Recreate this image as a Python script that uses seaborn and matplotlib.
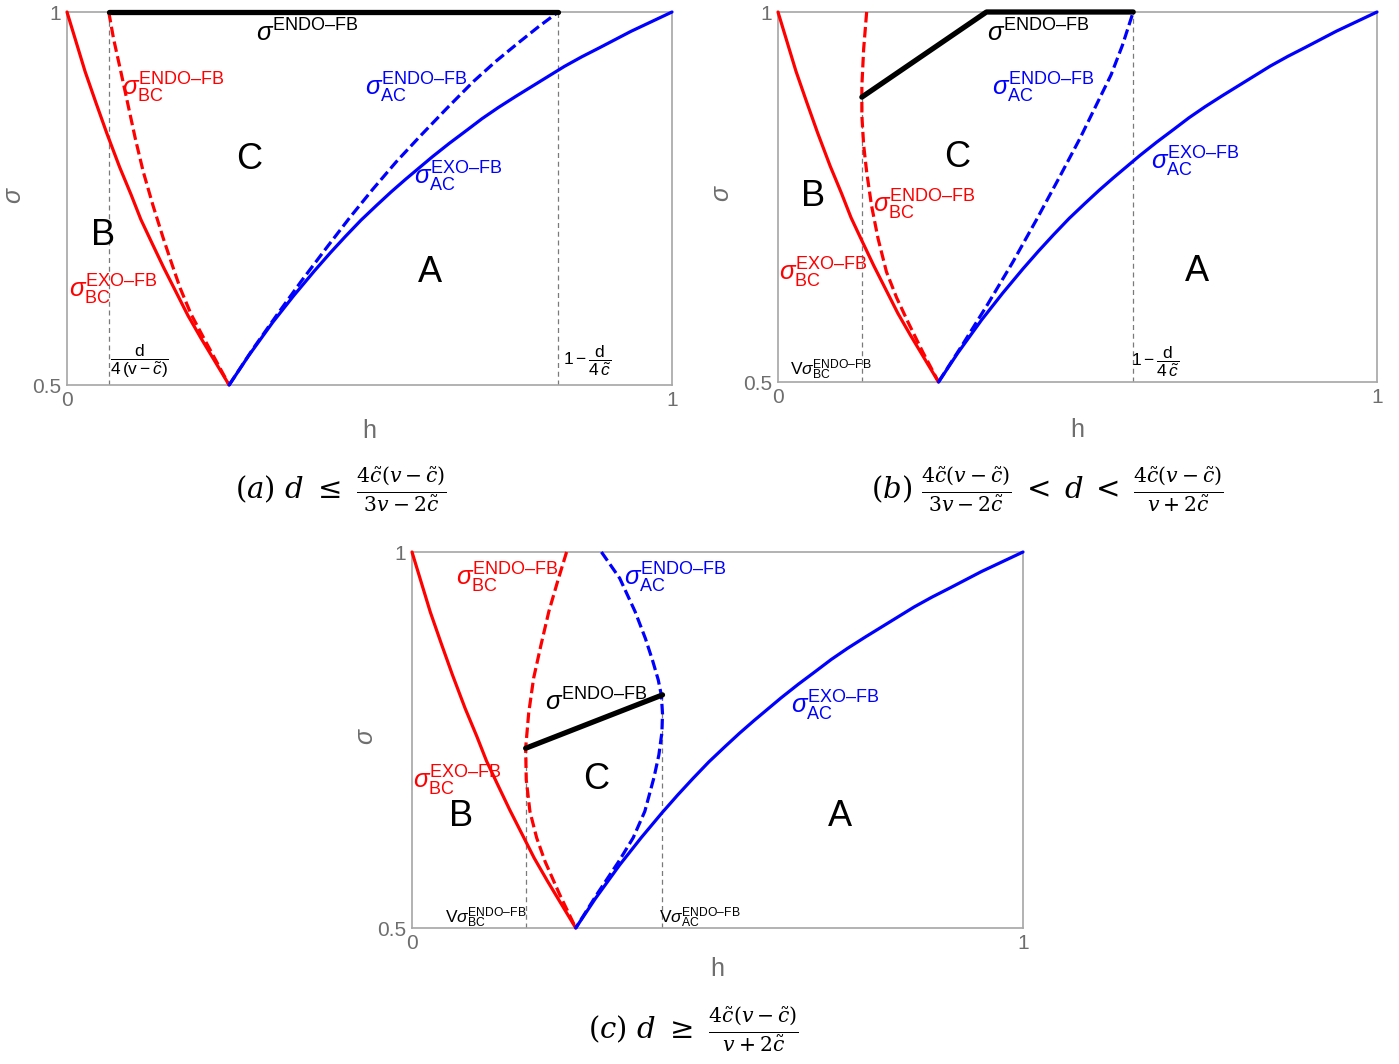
import matplotlib
matplotlib.use('Agg')
import matplotlib.pyplot as plt
import seaborn as sns

# ---- curves: h on x, sigma on y ----
# solid curves are the same in all three panels
h_bc_exo = [0.0, 0.015, 0.030, 0.048, 0.066, 0.087, 0.106, 0.122, 0.140, 0.160, 0.180, 0.200, 0.222, 0.245, 0.268]
s_bc_exo = [1.0, 0.960, 0.920, 0.878, 0.837, 0.792, 0.755, 0.722, 0.691, 0.657, 0.625, 0.593, 0.562, 0.531, 0.500]

h_ac_exo = [0.268, 0.300, 0.340, 0.375, 0.409, 0.435, 0.460, 0.486, 0.512, 0.536, 0.560, 0.582, 0.604,
            0.632, 0.660, 0.686, 0.713, 0.742, 0.770, 0.796, 0.822, 0.851, 0.880, 0.906, 0.932, 0.966, 1.0]
s_ac_exo = [0.500, 0.539, 0.584, 0.620, 0.653, 0.677, 0.699, 0.721, 0.741, 0.759, 0.776, 0.791, 0.806,
            0.824, 0.841, 0.857, 0.872, 0.887, 0.901, 0.914, 0.927, 0.940, 0.952, 0.963, 0.974, 0.987, 1.0]

# panel (a)
h_bc_endo_a = [0.069, 0.077, 0.089, 0.101, 0.113, 0.126, 0.142, 0.159, 0.173, 0.187, 0.205, 0.226, 0.248, 0.268]
s_bc_endo_a = [1.0, 0.964, 0.920, 0.875, 0.830, 0.786, 0.741, 0.697, 0.663, 0.630, 0.595, 0.563, 0.530, 0.500]
h_ac_endo_a = [0.268, 0.307, 0.347, 0.388, 0.429, 0.467, 0.505, 0.544, 0.583, 0.628, 0.672, 0.709, 0.745, 0.779, 0.812]
s_ac_endo_a = [0.500, 0.548, 0.594, 0.640, 0.684, 0.724, 0.762, 0.799, 0.833, 0.871, 0.907, 0.934, 0.958, 0.980, 1.0]
h_endo_a = [0.069, 0.812]
s_endo_a = [1.0, 1.0]
guide_h_a = [0.069, 0.811]
guide_top_a = [1.0, 1.0]

# panel (b)
h_bc_endo_b = [0.148, 0.143, 0.140, 0.140, 0.143, 0.148, 0.156, 0.167, 0.181, 0.198, 0.217, 0.242, 0.268]
s_bc_endo_b = [1.0, 0.950, 0.900, 0.860, 0.820, 0.784, 0.739, 0.694, 0.649, 0.614, 0.581, 0.540, 0.500]
h_ac_endo_b = [0.268, 0.310, 0.350, 0.392, 0.432, 0.470, 0.504, 0.530, 0.556, 0.575, 0.593]
s_ac_endo_b = [0.500, 0.553, 0.605, 0.662, 0.720, 0.777, 0.829, 0.872, 0.915, 0.955, 1.0]
h_endo_b = [0.140, 0.348, 0.593]
s_endo_b = [0.885, 1.0, 1.0]
guide_h_b = [0.140, 0.592]
guide_top_b = [0.885, 1.0]

# panel (c)
h_bc_endo_c = [0.253, 0.238, 0.224, 0.211, 0.199, 0.191, 0.186, 0.187, 0.193, 0.204, 0.218, 0.242, 0.268]
s_bc_endo_c = [1.0, 0.960, 0.921, 0.876, 0.832, 0.786, 0.739, 0.697, 0.655, 0.620, 0.588, 0.544, 0.500]
h_ac_endo_c = [0.310, 0.340, 0.365, 0.382, 0.394, 0.403, 0.408, 0.410, 0.409, 0.404, 0.396, 0.381, 0.362, 0.338, 0.302, 0.268]
s_ac_endo_c = [1.0, 0.965, 0.921, 0.885, 0.855, 0.830, 0.810, 0.785, 0.760, 0.730, 0.700, 0.655, 0.620, 0.588, 0.544, 0.500]
h_endo_c = [0.186, 0.410]
s_endo_c = [0.739, 0.810]
guide_h_c = [0.186, 0.409]
guide_top_c = [0.739, 0.810]

x_ticks = [0, 1]
x_ticklabels = ['0', '1']
y_ticks = [0.5, 1]
y_ticklabels = ['0.5', '1']

captions = [
    r'$(a)\ d\ \leq\ \frac{4\tilde{c}(v-\tilde{c})}{3v-2\tilde{c}}$',
    r'$(b)\ \frac{4\tilde{c}(v-\tilde{c})}{3v-2\tilde{c}}\;<\;d\;<\;\frac{4\tilde{c}(v-\tilde{c})}{v+2\tilde{c}}$',
    r'$(c)\ d\ \geq\ \frac{4\tilde{c}(v-\tilde{c})}{v+2\tilde{c}}$',
]

# ---- style ----
sns.set_theme(style='white')
plt.rcParams['font.family'] = ['Liberation Sans', 'DejaVu Sans']
plt.rcParams['mathtext.fontset'] = 'custom'
plt.rcParams['mathtext.rm'] = 'Liberation Sans'
plt.rcParams['mathtext.it'] = 'Liberation Sans:italic'
plt.rcParams['mathtext.bf'] = 'Liberation Sans:bold'
plt.rcParams['mathtext.sf'] = 'Liberation Sans'

RED = '#ff0000'
BLUE = '#0000ff'
GRAY = '#6e6e6e'
W, H = 1399, 1064

fig = plt.figure(figsize=(W / 100, H / 100), dpi=100)


def make_axes(left, top, right, bottom):
    return fig.add_axes([left / W, 1 - bottom / H, (right - left) / W, (bottom - top) / H])


def curve(ax, h, s, color, dashed=False, lw=2.3):
    ls = (0, (3.3, 1.4)) if dashed else '-'
    sns.lineplot(x=h, y=s, ax=ax, color=color, linewidth=lw, linestyle=ls,
                 sort=False, estimator=None, clip_on=False, zorder=3)


def sig(ax, x, y, sup, color, sub=None, size=18.5):
    txt = r'$\sigma' + (r'_{\mathrm{%s}}' % sub if sub else '') + r'^{\mathrm{%s}}$' % sup
    ax.text(x, y, txt, color=color, fontsize=size, ha='left', va='center', zorder=5)


def style_axes(ax, xlab_y, ylab_x):
    ax.set_xlim(0, 1)
    ax.set_ylim(0.5, 1)
    ax.set_xticks(x_ticks, x_ticklabels)
    ax.set_yticks(y_ticks, y_ticklabels)
    ax.tick_params(length=0, pad=4, labelsize=15, labelcolor=GRAY)
    for sp in ax.spines.values():
        sp.set_color('#a6a6a6')
        sp.set_linewidth(1.2)
    ax.set_xlabel('h', fontsize=18, color=GRAY)
    ax.set_ylabel(r'$\sigma$', fontsize=18, color=GRAY)
    ax.xaxis.set_label_coords(0.5, xlab_y)
    ax.yaxis.set_label_coords(ylab_x, 0.51)
    ax.grid(False)


def region(ax, x, y, letter):
    ax.text(x, y, letter, fontsize=26, ha='center', va='center', color='black')


def panel(ax, guide_h, guide_top, h_bc, s_bc, h_ac, s_ac, h_en, s_en):
    ax.vlines(guide_h, 0.5, guide_top, colors='#7a7a7a', linewidth=0.9,
              linestyles=(0, (4, 3)))
    curve(ax, h_bc, s_bc, RED, dashed=True)
    curve(ax, h_bc_exo, s_bc_exo, RED)
    curve(ax, h_ac, s_ac, BLUE, dashed=True)
    curve(ax, h_ac_exo, s_ac_exo, BLUE)
    curve(ax, h_en, s_en, 'black', lw=3.8)


def vsig(ax, x, y, sub):
    ax.text(x, y, r'$\mathrm{V}\sigma_{\mathrm{%s}}^{\mathrm{ENDO–FB}}$' % sub, fontsize=12.5,
            ha='left', va='center', color='black')


# ---- panel (a) ----
ax_a = make_axes(67, 12, 672, 385)
panel(ax_a, guide_h_a, guide_top_a, h_bc_endo_a, s_bc_endo_a, h_ac_endo_a, s_ac_endo_a, h_endo_a, s_endo_a)
style_axes(ax_a, -0.090, -0.068)
sig(ax_a, 0.313, 0.972, 'ENDO–FB', 'black')
sig(ax_a, 0.091, 0.898, 'ENDO–FB', RED, 'BC')
sig(ax_a, 0.492, 0.898, 'ENDO–FB', BLUE, 'AC')
sig(ax_a, 0.574, 0.779, 'EXO–FB', BLUE, 'AC')
sig(ax_a, 0.003, 0.628, 'EXO–FB', RED, 'BC')
region(ax_a, 0.060, 0.701, 'B')
region(ax_a, 0.301, 0.802, 'C')
region(ax_a, 0.600, 0.651, 'A')
ax_a.text(0.119, 0.532, r'$\dfrac{\mathrm{d}}{4\,(\mathrm{v}-\tilde{c})}$', fontsize=12.5,
          ha='center', va='center', color='black')
ax_a.text(0.860, 0.532, r'$1-\dfrac{\mathrm{d}}{4\,\tilde{c}}$', fontsize=12.5,
          ha='center', va='center', color='black')

# ---- panel (b) ----
ax_b = make_axes(778, 12, 1377, 382)
panel(ax_b, guide_h_b, guide_top_b, h_bc_endo_b, s_bc_endo_b, h_ac_endo_b, s_ac_endo_b, h_endo_b, s_endo_b)
style_axes(ax_b, -0.098, -0.074)
sig(ax_b, 0.349, 0.972, 'ENDO–FB', 'black')
sig(ax_b, 0.358, 0.898, 'ENDO–FB', BLUE, 'AC')
sig(ax_b, 0.158, 0.739, 'ENDO–FB', RED, 'BC')
sig(ax_b, 0.622, 0.798, 'EXO–FB', BLUE, 'AC')
sig(ax_b, 0.001, 0.648, 'EXO–FB', RED, 'BC')
region(ax_b, 0.058, 0.750, 'B')
region(ax_b, 0.299, 0.803, 'C')
region(ax_b, 0.700, 0.649, 'A')
vsig(ax_b, 0.020, 0.516, 'BC')
ax_b.text(0.629, 0.528, r'$1-\dfrac{\mathrm{d}}{4\,\tilde{c}}$', fontsize=12.5,
          ha='center', va='center', color='black')

# ---- panel (c) ----
ax_c = make_axes(412, 552, 1023, 928)
panel(ax_c, guide_h_c, guide_top_c, h_bc_endo_c, s_bc_endo_c, h_ac_endo_c, s_ac_endo_c, h_endo_c, s_endo_c)
style_axes(ax_c, -0.076, -0.056)
sig(ax_c, 0.072, 0.966, 'ENDO–FB', RED, 'BC')
sig(ax_c, 0.347, 0.966, 'ENDO–FB', BLUE, 'AC')
sig(ax_c, 0.217, 0.800, 'ENDO–FB', 'black')
sig(ax_c, 0.620, 0.796, 'EXO–FB', BLUE, 'AC')
sig(ax_c, 0.001, 0.695, 'EXO–FB', RED, 'BC')
region(ax_c, 0.080, 0.648, 'B')
region(ax_c, 0.301, 0.698, 'C')
region(ax_c, 0.700, 0.648, 'A')
vsig(ax_c, 0.054, 0.513, 'BC')
vsig(ax_c, 0.404, 0.513, 'AC')

# ---- captions ----
for (cx, cy), cap in zip([(341, 490), (1047, 490), (693, 1030)], captions):
    fig.text(cx / W, 1 - cy / H, cap, fontsize=21, ha='center', va='center',
             color='black', math_fontfamily='dejavuserif')

fig.savefig('out.png', dpi=100, facecolor='white')
